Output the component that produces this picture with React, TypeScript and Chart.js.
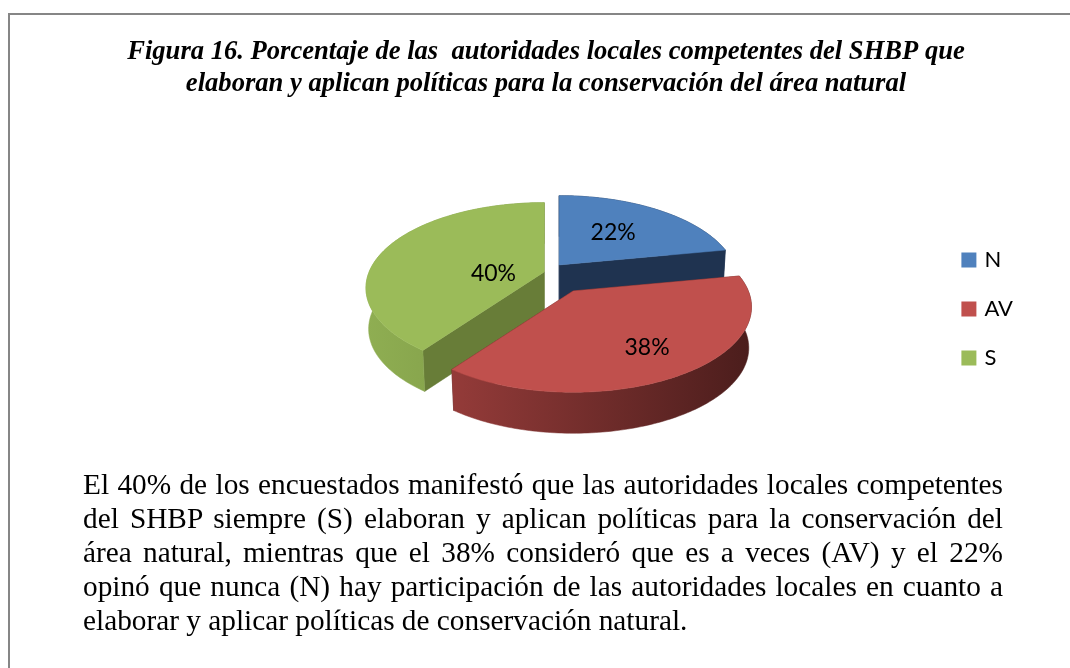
import React, { useEffect, useRef } from "react";
import { Chart, registerables } from "chart.js";

Chart.register(...registerables);

const categories = ["N", "AV", "S"];
const seriesValues = [22, 38, 40];
const sliceColors = ["#4F81BD", "#C0504D", "#9BBB59"];
const titleLines = [
  "Figura 16. Porcentaje de las  autoridades locales competentes del SHBP que",
  "elaboran y aplican políticas para la conservación del área natural",
];
const paragraphLines = [
  "El 40% de los encuestados manifestó que las autoridades locales competentes",
  "del SHBP siempre (S) elaboran y aplican políticas para la conservación del",
  "área natural, mientras que el 38% consideró que es a veces (AV) y el 22%",
  "opinó que nunca (N) hay participación de las autoridades locales en cuanto a",
  "elaborar y aplicar políticas de conservación natural.",
];

// 3D look
const PIE_SHIFT_X = 50;
const PIE_SHIFT_Y = -32;
const SQUASH = 0.47;
const PERSPECTIVE = 0.188;
const DEPTH = 41;
const BOTTOM_SCALE_X = 0.985;
const EXPLODE = [
  { x: 6, y: -12 },
  { x: 20, y: 14 },
  { x: -9, y: -5 },
];
const LABEL_RADIUS = [0.52, 0.7, 0.31];
const LABEL_NUDGE_Y = [-2, 2, 9];
const DRAW_ORDER = [0, 2, 1];
const INNER_FACE = ["#1F3350", "#4E1E1D", "#687D38"];
const WALL_STOPS = [
  ["#1F3350", "#1F3350"],
  ["#943B39", "#4B1D1C"],
  ["#8FAE52", "#7A9644"],
];

function project(u: number, v: number, R: number) {
  const d = 1 - PERSPECTIVE * v;
  return { x: (R * u) / d, y: (R * SQUASH * v) / d };
}

const pie3d = {
  id: "pie3d",
  beforeDatasetDraw(chart: any) {
    const ctx = chart.ctx;
    const arcs = chart.getDatasetMeta(0).data;
    for (const i of DRAW_ORDER) {
      const arc = arcs[i];
      const R = arc.outerRadius;
      const cx = arc.x + PIE_SHIFT_X + EXPLODE[i].x;
      const cy = arc.y + PIE_SHIFT_Y + EXPLODE[i].y;
      const rim: { x: number; y: number }[] = [];
      const steps = Math.ceil(((arc.endAngle - arc.startAngle) * 180) / Math.PI);
      for (let s = 0; s <= steps; s++) {
        const t = arc.startAngle + ((arc.endAngle - arc.startAngle) * s) / steps;
        rim.push(project(Math.cos(t), Math.sin(t), R));
      }
      const low = (p: { x: number; y: number }) => ({
        x: cx + p.x * BOTTOM_SCALE_X,
        y: cy + p.y + DEPTH,
      });
      const top = (p: { x: number; y: number }) => ({ x: cx + p.x, y: cy + p.y });
      const apex = { x: 0, y: 0 };
      const poly = (pts: { x: number; y: number }[], fill: any) => {
        ctx.beginPath();
        pts.forEach((p, k) => (k ? ctx.lineTo(p.x, p.y) : ctx.moveTo(p.x, p.y)));
        ctx.closePath();
        ctx.fillStyle = fill;
        ctx.fill();
        ctx.strokeStyle = fill;
        ctx.lineWidth = 0.5;
        ctx.stroke();
      };
      // inner faces
      poly([top(apex), top(rim[0]), low(rim[0]), low(apex)], INNER_FACE[i]);
      poly(
        [top(apex), top(rim[rim.length - 1]), low(rim[rim.length - 1]), low(apex)],
        INNER_FACE[i]
      );
      // outer wall
      const xs = rim.map((p) => cx + p.x);
      const grad = ctx.createLinearGradient(Math.min(...xs), 0, Math.max(...xs), 0);
      grad.addColorStop(0, WALL_STOPS[i][0]);
      grad.addColorStop(1, WALL_STOPS[i][1]);
      poly([...rim.map(top), ...rim.slice().reverse().map(low)], grad);
      // top surface
      poly([top(apex), ...rim.map(top)], arc.options.backgroundColor);
    }
    // percentage labels
    ctx.save();
    ctx.font = "23px Lato";
    ctx.fillStyle = "#000";
    ctx.textAlign = "center";
    ctx.textBaseline = "middle";
    arcs.forEach((arc: any, i: number) => {
      const mid = (arc.startAngle + arc.endAngle) / 2;
      const f = LABEL_RADIUS[i];
      const p = project(Math.cos(mid) * f, Math.sin(mid) * f, arc.outerRadius);
      ctx.fillText(
        seriesValues[i] + "%",
        arc.x + PIE_SHIFT_X + EXPLODE[i].x + p.x,
        arc.y + PIE_SHIFT_Y + EXPLODE[i].y + p.y + LABEL_NUDGE_Y[i]
      );
    });
    ctx.restore();
    return false;
  },
};

export default function App() {
  const ref = useRef<HTMLCanvasElement>(null);
  useEffect(() => {
    const chart = new Chart(ref.current!, {
      type: "pie",
      data: {
        labels: categories,
        datasets: [
          {
            data: seriesValues,
            backgroundColor: sliceColors,
            borderWidth: 0,
            hoverOffset: 0,
          },
        ],
      },
      options: {
        responsive: false,
        animation: false,
        layout: { padding: { left: 69, right: 47, top: 36, bottom: 184 } },
        plugins: {
          tooltip: { enabled: false },
          title: {
            display: true,
            text: titleLines,
            color: "#000",
            font: { family: "'Liberation Serif'", size: 26.6, style: "italic", weight: "bold", lineHeight: 1.2 },
            padding: { top: 0, bottom: 34 },
          },
          legend: {
            position: "right",
            fullSize: false,
            labels: {
              color: "#000",
              boxWidth: 9,
              boxHeight: 9,
              padding: 27,
              font: { family: "Lato", size: 22 },
              generateLabels(chart: any) {
                return Chart.overrides.pie.plugins.legend.labels
                  .generateLabels(chart)
                  .map((item: any) => ({ ...item, strokeStyle: item.fillStyle, lineWidth: 6 }));
              },
            },
          },
        },
      },
      plugins: [pie3d],
    } as any);
    return () => chart.destroy();
  }, []);
  return (
    <div style={{ position: "absolute", left: 0, top: 0, width: 1070, height: 668, background: "#fff", overflow: "hidden" }}>
      <div
        style={{
          position: "absolute",
          left: 8,
          top: 13,
          width: 1100,
          height: 700,
          border: "2px solid #868686",
          boxSizing: "border-box",
        }}
      />
      <canvas ref={ref} width={1070} height={668} style={{ position: "absolute", left: 0, top: 0, display: "block" }} />
      <div
        style={{
          position: "absolute",
          left: 83,
          top: 467,
          width: 920,
          fontFamily: "'Liberation Serif'",
          fontSize: 29.3,
          lineHeight: "34px",
          color: "#000",
        }}
      >
        {paragraphLines.map((line, i) => (
          <div
            key={i}
            style={{
              whiteSpace: "nowrap",
              textAlign: "justify",
              textAlignLast: i === paragraphLines.length - 1 ? "left" : "justify",
            }}
          >
            {line}
          </div>
        ))}
      </div>
    </div>
  );
}
